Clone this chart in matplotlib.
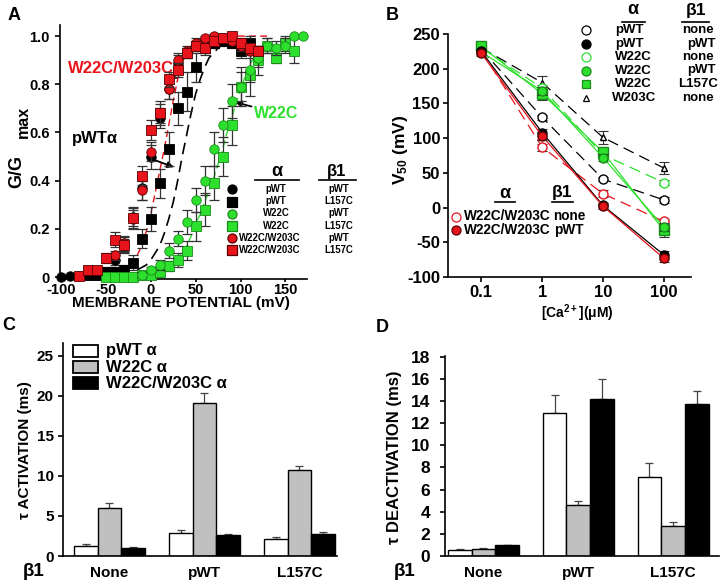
import numpy as np
import matplotlib
matplotlib.use("Agg")
import matplotlib.pyplot as plt
from matplotlib.patches import Rectangle

plt.rcParams['font.family'] = ['Liberation Sans', 'DejaVu Sans']
plt.rcParams['font.weight'] = 'bold'
plt.rcParams['axes.unicode_minus'] = False
plt.rcParams['mathtext.fontset'] = 'custom'
plt.rcParams['mathtext.rm'] = 'Liberation Sans:bold'
plt.rcParams['mathtext.it'] = 'Liberation Sans:bold'
plt.rcParams['mathtext.bf'] = 'Liberation Sans:bold'

RED = '#e8141c'
GREEN = '#2ee02e'
DKGREEN = '#1a8a1a'
GRAY = '#c0c0c0'

# ---------------- panel A data (G/Gmax vs membrane potential) ----------------
bc_mv = [-100, -90, -80, -70, -60, -50, -40, -30, -20, -10, 0, 10, 20, 30, 40, 50, 60, 70, 80, 90, 100, 110, 120]
bc_g = [0.0, 0.005, 0.005, 0.01, 0.01, 0.02, 0.07, 0.13, 0.25, 0.37, 0.50, 0.66, 0.78, 0.89, 0.93, 0.96, 0.98, 0.99, 0.98, 0.98, 0.96, 0.96, 0.94]
bc_e = [0, 0, 0.005, 0.01, 0.01, 0.01, 0.02, 0.03, 0.04, 0.05, 0.05, 0.04, 0.04, 0.03, 0.02, 0.02, 0.01, 0.01, 0.01, 0.01, 0.02, 0.02, 0.02]

bs_mv = [-70, -60, -50, -40, -30, -20, -10, 0, 10, 20, 30, 40, 50, 60, 70, 80, 90, 100, 110]
bs_g = [0.01, 0.01, 0.02, 0.02, 0.03, 0.06, 0.16, 0.24, 0.39, 0.53, 0.70, 0.77, 0.87, 0.95, 0.97, 0.98, 0.97, 0.94, 0.97]
bs_e = [0.01, 0.01, 0.02, 0.02, 0.02, 0.03, 0.04, 0.05, 0.06, 0.07, 0.07, 0.08, 0.06, 0.03, 0.02, 0.02, 0.02, 0.03, 0.03]

gc_mv = [-10, 0, 10, 20, 30, 40, 50, 60, 70, 80, 90, 100, 110, 120, 130, 140, 150, 160, 170]
gc_g = [0.01, 0.03, 0.05, 0.11, 0.16, 0.23, 0.32, 0.40, 0.53, 0.63, 0.73, 0.79, 0.86, 0.91, 0.96, 0.95, 0.96, 1.0, 1.0]
gc_e = [0.01, 0.01, 0.02, 0.03, 0.03, 0.05, 0.05, 0.06, 0.07, 0.07, 0.07, 0.06, 0.05, 0.04, 0.03, 0.03, 0.03, 0, 0]

gs_mv = [-50, -40, -30, -20, -10, 0, 10, 20, 30, 40, 50, 60, 70, 80, 90, 100, 110, 120, 130, 140, 150, 160]
gs_g = [0.0, 0.0, 0.0, 0.0, 0.01, 0.01, 0.02, 0.045, 0.07, 0.11, 0.21, 0.28, 0.39, 0.50, 0.63, 0.79, 0.84, 0.90, 0.96, 0.91, 0.97, 0.94]
gs_e = [0, 0, 0, 0, 0.01, 0.01, 0.01, 0.02, 0.03, 0.04, 0.06, 0.07, 0.07, 0.08, 0.08, 0.08, 0.09, 0.06, 0.03, 0.02, 0.03, 0.05]

rc_mv = [-40, -30, -20, -10, 0, 10, 20, 30, 40, 50, 60, 70, 80, 90, 100, 110, 120]
rc_g = [0.09, 0.14, 0.24, 0.36, 0.52, 0.68, 0.78, 0.90, 0.94, 0.97, 0.99, 1.0, 0.99, 0.98, 0.96, 0.94, 0.94]
rc_e = [0.02, 0.03, 0.04, 0.04, 0.04, 0.05, 0.04, 0.03, 0.02, 0.02, 0.01, 0.01, 0.01, 0.01, 0.02, 0.02, 0.02]

rs_mv = [-80, -70, -60, -50, -40, -30, -20, -10, 0, 10, 20, 30, 40, 50, 60, 70, 80, 90, 100, 110, 120]
rs_g = [0.005, 0.03, 0.03, 0.08, 0.155, 0.135, 0.245, 0.42, 0.61, 0.68, 0.82, 0.86, 0.93, 0.96, 0.95, 0.98, 0.99, 1.0, 0.97, 0.95, 0.94]
rs_e = [0.01, 0.01, 0.01, 0.02, 0.03, 0.03, 0.04, 0.04, 0.04, 0.04, 0.03, 0.03, 0.02, 0.02, 0.02, 0.01, 0.01, 0.01, 0.02, 0.02, 0.02]

# dashed fit curves
fit_k_mv = [-15, -10, -5, 0, 5, 10, 15, 20, 25, 30, 35, 40, 45, 50, 55, 60, 65, 70, 75, 80, 85, 90]
fit_k_g = [0.03, 0.04, 0.05, 0.07, 0.10, 0.13, 0.18, 0.24, 0.31, 0.40, 0.50, 0.59, 0.68, 0.76, 0.82, 0.87, 0.91, 0.93, 0.95, 0.965, 0.975, 0.98]
fit_r_mv = [-15, -10, -5, 0, 5, 10, 15, 20, 25, 30, 35, 40, 45, 50, 55, 60, 70, 80, 90, 100, 110, 120, 130]
fit_r_g = [0.09, 0.13, 0.19, 0.26, 0.35, 0.44, 0.53, 0.63, 0.73, 0.82, 0.89, 0.93, 0.96, 0.975, 0.985, 0.99, 1.0, 1.0, 1.0, 1.0, 1.0, 1.0, 1.0]
fit_g_mv = [30, 35, 40, 45, 50, 55, 60, 65, 70, 75, 80, 85, 90, 95, 100, 105, 110, 115, 120, 125, 130]
fit_g_g = [0.07, 0.10, 0.13, 0.17, 0.22, 0.26, 0.31, 0.36, 0.41, 0.47, 0.53, 0.60, 0.66, 0.72, 0.78, 0.83, 0.88, 0.91, 0.94, 0.96, 0.97]

# ---------------- panel B data (V50 vs [Ca2+]) ----------------
ca = [0.1, 1, 10, 100]
v_pwt_none = [228, 130, 41, 11]
v_pwt_pwt = [225, 108, 3, -68]
v_w22_none = [230, 172, 76, 36]
v_w22_pwt = [224, 168, 72, -28]
v_w22_l157 = [232, 164, 80, -33]
v_w203_none = [230, 180, 101, 57]
v_dbl_none = [226, 87, 20, -20]
v_dbl_pwt = [222, 103, 2, -73]
e_pwt_none = [4, 4, 3, 4]
e_pwt_pwt = [4, 5, 4, 6]
e_w22_none = [4, 5, 5, 4]
e_w22_pwt = [4, 6, 5, 6]
e_w22_l157 = [4, 9, 6, 9]
e_w203_none = [5, 9, 9, 8]
e_dbl_none = [4, 5, 5, 4]
e_dbl_pwt = [4, 5, 4, 5]

# ---------------- panels C, D data (bars) ----------------
beta_groups = ['None', 'pWT', 'L157C']
alpha_names = [u'pWT \u03b1', u'W22C \u03b1', u'W22C/W203C \u03b1']
tau_act = [[1.2, 2.9, 2.1], [6.0, 19.1, 10.8], [1.0, 2.6, 2.7]]
tau_act_err = [[0.3, 0.3, 0.3], [0.6, 1.2, 0.4], [0.15, 0.1, 0.25]]
tau_deact = [[0.5, 12.9, 7.1], [0.62, 4.6, 2.7], [0.97, 14.2, 13.7]]
tau_deact_err = [[0.17, 1.6, 1.3], [0.12, 0.4, 0.4], [0.03, 1.8, 1.2]]
bar_colors = ['white', GRAY, 'black']

W, H = 724, 586


def box(l, t, r, b):
    return [l / W, 1 - b / H, (r - l) / W, (b - t) / H]


def fpx(x, y):
    return x / W, 1 - y / H


def hline(x0, x1, y):
    fig.lines.append(plt.Line2D([x0 / W, x1 / W], [1 - y / H] * 2, color='black', lw=1.2,
                                transform=fig.transFigure))


def mark(x, y, m, ms, fc, ec):
    fig.lines.append(plt.Line2D([x / W], [1 - y / H], marker=m, ms=ms, mfc=fc, mec=ec,
                                mew=0.9, transform=fig.transFigure))


def style_axes(ax, size, pad=3, length=3.5):
    for s in ['top', 'right']:
        ax.spines[s].set_visible(False)
    for s in ['left', 'bottom']:
        ax.spines[s].set_linewidth(1.2)
    ax.tick_params(direction='out', width=1.2, length=length, labelsize=size, pad=pad)
    for lab in ax.get_xticklabels() + ax.get_yticklabels():
        lab.set_fontweight('bold')


fig = plt.figure(figsize=(7.24, 5.86), dpi=100)

# ======================= A =======================
axA = fig.add_axes(box(60, 25, 307, 279))
axA.plot(fit_k_mv, fit_k_g, color='black', lw=1.2, dashes=(7, 4), zorder=2)
axA.plot(fit_r_mv, fit_r_g, color=RED, lw=1.0, dashes=(5, 3), zorder=2)
axA.plot(fit_g_mv, fit_g_g, color=GREEN, lw=1.0, dashes=(5, 3), zorder=2)

series_A = [
    (bc_mv, bc_g, bc_e, 'o', 'black', 'black'),
    (bs_mv, bs_g, bs_e, 's', 'black', 'black'),
    (gs_mv, gs_g, gs_e, 's', GREEN, DKGREEN),
    (gc_mv, gc_g, gc_e, 'o', GREEN, DKGREEN),
    (rc_mv, rc_g, rc_e, 'o', RED, '#5a0000'),
    (rs_mv, rs_g, rs_e, 's', RED, '#5a0000'),
]
for i, (x, y, e, m, fc, ec) in enumerate(series_A):
    axA.errorbar(x, y, yerr=e, fmt='none', ecolor='#333333', elinewidth=0.9,
                 capsize=3.5, capthick=0.9, zorder=3 + i)
    axA.plot(x, y, m, ms=6.8, mfc=fc, mec=ec, mew=0.6, ls='none', zorder=3.5 + i,
             clip_on=False)

axA.set_xlim(-101, 174)
axA.set_ylim(-0.008, 1.046)
axA.set_xticks([-100, -50, 0, 50, 100, 150])
axA.set_yticks([0, 0.2, 0.4, 0.6, 0.8, 1.0])
axA.set_yticklabels(['0', '0.2', '0.4', '0.6', '0.8', '1.0'])
style_axes(axA, 10.5, pad=0.5, length=2.5)
axA.tick_params(axis='y', pad=4, length=3.5)

arrow = dict(arrowstyle='-|>', color='black', lw=1.3, mutation_scale=9, shrinkB=0)
axA.annotate('W22C/W203C', xy=(30, 0.826), xytext=(-33, 0.867), color=RED, fontsize=12,
             fontweight='bold', ha='center', va='center',
             arrowprops=dict(arrow, shrinkA=50))
axA.annotate(u'pWT\u03b1', xy=(25.8, 0.456), xytext=(-62, 0.577), color='black', fontsize=12,
             fontweight='bold', ha='center', va='center',
             arrowprops=dict(arrow, shrinkA=20))
axA.annotate('W22C', xy=(94, 0.726), xytext=(140, 0.68), color=GREEN, fontsize=11.5,
             fontweight='bold', ha='center', va='center',
             arrowprops=dict(arrow, shrinkA=22))

# legend table of panel A
fig.text(*fpx(277, 172), u'\u03b1', fontsize=13, ha='center', va='center')
fig.text(*fpx(337, 172), u'\u03b21', fontsize=12, ha='center', va='center')
hline(255, 299, 180)
hline(319, 356, 180)
legA_alpha = ['pWT', 'pWT', 'W22C', 'W22C', 'W22C/W203C', 'W22C/W203C']
legA_beta = ['pWT', 'L157C', 'pWT', 'L157C', 'pWT', 'L157C']
legA_rows = [189, 201.5, 213.5, 226, 238, 250]
legA_marks = [('o', 'black', 'black'), ('s', 'black', 'black'), ('o', GREEN, DKGREEN),
              ('s', GREEN, DKGREEN), ('o', RED, '#5a0000'), ('s', RED, '#5a0000')]
for a, b, yy, (m, fc, ec) in zip(legA_alpha, legA_beta, legA_rows, legA_marks):
    mark(232, yy, m, 6.5, fc, ec)
    if len(a) > 6:
        fig.text(*fpx(239, yy), a, fontsize=6.9, ha='left', va='center')
    else:
        fig.text(*fpx(276, yy), a, fontsize=6.9, ha='center', va='center')
    fig.text(*fpx(339, yy), b, fontsize=6.9, ha='center', va='center')

fig.text(*fpx(181, 303), 'MEMBRANE POTENTIAL (mV)', fontsize=11, ha='center', va='center')
fig.text(*fpx(17, 171), 'G/G', fontsize=13, ha='center', va='center', rotation=90)
fig.text(*fpx(23, 122), 'max', fontsize=11.5, ha='center', va='center', rotation=90)
fig.text(*fpx(14, 16), 'A', fontsize=13, ha='center', va='center')

# ======================= B =======================
axB = fig.add_axes(box(447.7, 34, 691, 277))
series_B = [
    (v_w203_none, e_w203_none, '^', 'white', 'black', 'black', (9, 5), 5),
    (v_pwt_none, e_pwt_none, 'o', 'white', 'black', 'black', (9, 5), 6.5),
    (v_w22_none, e_w22_none, 'o', 'white', GREEN, GREEN, (9, 5), 6.5),
    (v_dbl_none, e_dbl_none, 'o', 'white', RED, RED, (9, 5), 6.5),
    (v_w22_l157, e_w22_l157, 's', GREEN, DKGREEN, GREEN, None, 6.5),
    (v_w22_pwt, e_w22_pwt, 'o', GREEN, DKGREEN, GREEN, None, 6.5),
    (v_pwt_pwt, e_pwt_pwt, 'o', 'black', 'black', 'black', None, 6.5),
    (v_dbl_pwt, e_dbl_pwt, 'o', RED, '#5a0000', RED, None, 6.5),
]
for i, (v, e, m, fc, ec, lc, dash, ms) in enumerate(series_B):
    ln, = axB.plot(ca, v, color=lc, lw=0.9, zorder=2 + i)
    if dash:
        ln.set_dashes(dash)
    axB.errorbar(ca, v, yerr=e, fmt='none', ecolor='#333333', elinewidth=0.8,
                 capsize=3.5, capthick=0.8, zorder=2.2 + i)
    axB.plot(ca, v, m, ms=ms, mfc=fc, mec=ec, mew=1.0, ls='none', zorder=2.5 + i)
axB.set_xscale('log')
axB.set_xlim(0.028, 280)
axB.set_ylim(-100, 250)
axB.set_xticks(ca)
axB.set_xticklabels(['0.1', '1', '10', '100'])
axB.xaxis.set_minor_locator(matplotlib.ticker.NullLocator())
axB.set_yticks([-100, -50, 0, 50, 100, 150, 200, 250])
style_axes(axB, 12, pad=2)

# legend tables of panel B
fig.text(*fpx(633, 10), u'\u03b1', fontsize=13, ha='center', va='center')
fig.text(*fpx(696, 10), u'\u03b21', fontsize=12.5, ha='center', va='center')
hline(622, 645, 22)
hline(682, 709, 22)
legB_alpha = ['pWT', 'pWT', 'W22C', 'W22C', 'W22C', 'W203C']
legB_beta = ['none', 'pWT', 'none', 'pWT', 'L157C', 'none']
legB_rows = [30, 44, 57, 70.5, 84, 98]
legB_acx = [629, 629, 633, 633, 633, 634]
legB_bcx = [698, 701, 698, 701, 698.5, 698]
legB_marks = [('o', 'white', 'black', 6.5), ('o', 'black', 'black', 6.5),
              ('o', 'white', GREEN, 6.5), ('o', GREEN, DKGREEN, 6.5),
              ('s', GREEN, DKGREEN, 6), ('^', 'white', 'black', 5)]
for a, b, yy, ax_, bx_, (m, fc, ec, ms) in zip(legB_alpha, legB_beta, legB_rows, legB_acx,
                                               legB_bcx, legB_marks):
    mark(586, yy, m, ms, fc, ec)
    fig.text(*fpx(ax_, yy), a, fontsize=9.5, ha='center', va='center')
    fig.text(*fpx(bx_, yy), b, fontsize=9.5, ha='center', va='center')

fig.text(*fpx(505, 193), u'\u03b1', fontsize=13, ha='center', va='center')
fig.text(*fpx(562, 193), u'\u03b21', fontsize=12.5, ha='center', va='center')
hline(495, 515, 202)
hline(552, 573, 202)
legB2 = [('W22C/W203C', 'none', 216.5, 'white', RED), ('W22C/W203C', 'pWT', 230, RED, '#5a0000')]
for a, b, yy, fc, ec in legB2:
    mark(456, yy, 'o', 6.5, fc, ec)
    fig.text(*fpx(464, yy), a, fontsize=9.8, ha='left', va='center')
    fig.text(*fpx(569, yy), b, fontsize=9.8, ha='center', va='center')

fig.text(*fpx(401, 150), r'V$_{50}$ (mV)', fontsize=12.5, ha='center', va='center', rotation=90)
fig.text(*fpx(577, 313), r'[Ca$^{2+}$]($\mu$M)', fontsize=10, ha='center', va='center')
fig.text(*fpx(392, 15), 'B', fontsize=13, ha='center', va='center')


# ======================= C & D =======================
def bar_panel(rect, vals, errs, ylim, yticks, xlim, tsize, ypad, ylabel, lsize, ylabel_xy, beta_xy):
    ax = fig.add_axes(rect)
    x = np.arange(len(beta_groups))
    w = 0.25
    for k in range(3):
        xs = x + (k - 1) * w
        ax.bar(xs, vals[k], width=w, color=bar_colors[k], edgecolor='black', lw=1.0, zorder=2)
        ax.errorbar(xs, vals[k], yerr=[np.zeros(3), errs[k]], fmt='none', ecolor='#444444',
                    elinewidth=0.9, capsize=3, capthick=0.9, zorder=1)
    ax.set_xlim(*xlim)
    ax.set_ylim(*ylim)
    ax.set_yticks(yticks)
    ax.set_xticks(x)
    ax.set_xticklabels(beta_groups)
    style_axes(ax, tsize, pad=ypad)
    ax.tick_params(axis='x', length=0, labelsize=11, pad=7)
    fig.text(*fpx(*ylabel_xy), ylabel, fontsize=lsize, ha='center', va='center', rotation=90)
    fig.text(*fpx(*beta_xy), u'\u03b21', fontsize=13.5, ha='center', va='center')
    return ax


axC = bar_panel(box(63, 343, 337, 556), tau_act, tau_act_err, (0, 26.6), [0, 5, 10, 15, 20, 25],
                (-0.489, 2.395), 11, 3, u'\u03c4 ACTIVATION (ms)', 11, (25, 450), (34, 572))
axD = bar_panel(box(444.7, 356, 719, 556), tau_deact, tau_deact_err, (0, 18.05),
                list(range(0, 19, 2)), (-0.408, 2.484), 12.5, 7, u'\u03c4 DEACTIVATION (ms)', 12,
                (394, 457), (405, 572))

# legend of panel C
for k, (name, yy) in enumerate(zip(alpha_names, [351, 367, 383])):
    x0, y0 = fpx(73, yy + 6)
    fig.patches.append(Rectangle((x0, y0), 25 / W, 12 / H, facecolor=bar_colors[k],
                                 edgecolor='black', lw=1.3, transform=fig.transFigure))
    fig.text(*fpx(106, yy), name, fontsize=12, ha='left', va='center')

fig.text(*fpx(9, 325), 'C', fontsize=13, ha='center', va='center')
fig.text(*fpx(382, 327), 'D', fontsize=13, ha='center', va='center')

fig.savefig('out.png', dpi=100)
